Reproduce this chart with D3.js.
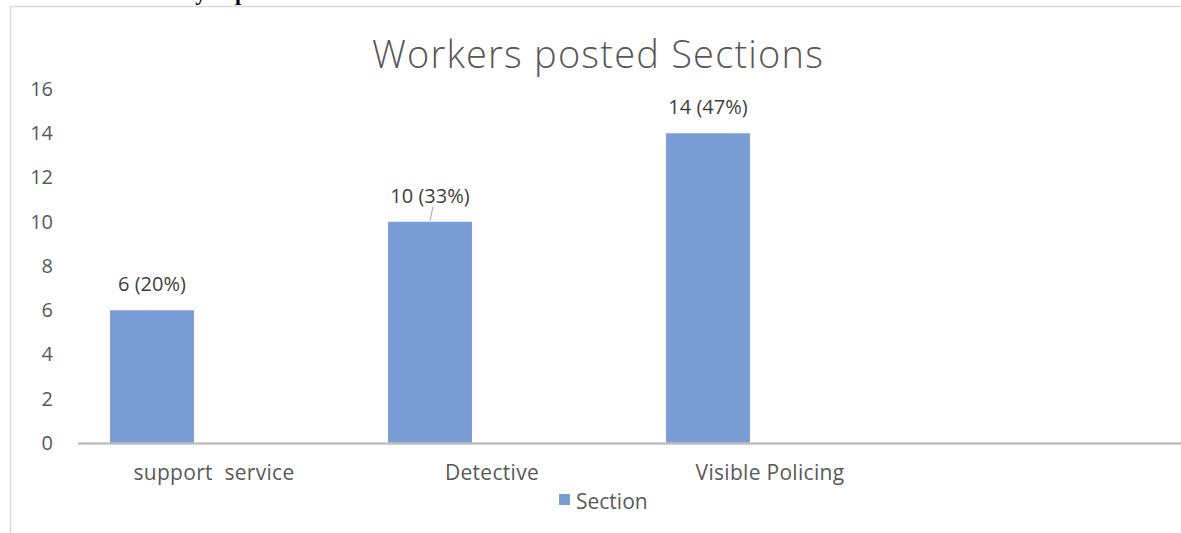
<!DOCTYPE html>
<html>
<head>
<meta charset="utf-8">
<script src="https://cdn.jsdelivr.net/npm/d3@7"></script>
<style>
  html, body { margin: 0; padding: 0; background: #fff; }
  svg { display: block; }
</style>
</head>
<body>
<svg width="1181" height="533"></svg>
<script>
// data
const categories = ["support  service", "Detective", "Visible Policing"];
const slots = ["support  service", "Detective", "Visible Policing", ""];
const values = [6, 10, 14];
const value_labels = ["6 (20%)", "10 (33%)", "14 (47%)"];
const y_ticks = [0, 2, 4, 6, 8, 10, 12, 14, 16];
const series_name = "Section";
const chart_title = "Workers posted Sections";
const question = "a. Which section are you posted at work?";

function render_chart()
{
    let svg = d3.select("svg");
    let width = +svg.attr("width");
    let height = +svg.attr("height");

    let bar_color = "#7b9dd6";
    let text_color = "#595959";
    let font = "'Open Sans', sans-serif";

    // cropped question text at the very top (only its lower edge shows)
    svg.append("text")
        .attr("x", 0)
        .attr("y", 0)
        .attr("font-family", "'Liberation Serif', serif")
        .attr("font-weight", "bold")
        .attr("font-size", 22)
        .attr("fill", "#000")
        .text(question);

    // chart frame (only top and left edges visible)
    svg.append("path")
        .attr("d", `M10.5,${height} V6.5 H${width}`)
        .attr("fill", "none")
        .attr("stroke", "#d9d9d9")
        .attr("stroke-width", 1.5);

    let x = d3.scaleBand()
        .domain(slots)
        .range([13, 1125])
        .paddingInner(0.698)
        .paddingOuter(0.349);

    let y = d3.scaleLinear()
        .domain([0, 16])
        .range([443, 89]);

    // title
    svg.append("text")
        .attr("x", 598)
        .attr("y", 68)
        .attr("text-anchor", "middle")
        .attr("font-family", font)
        .attr("font-weight", 300)
        .attr("font-size", 38)
        .attr("letter-spacing", 1.2)
        .attr("fill", text_color)
        .text(chart_title);

    // y axis labels
    let y_axis = d3.axisLeft(y)
        .tickValues(y_ticks)
        .tickSize(0)
        .tickPadding(0);
    svg.append("g")
        .attr("transform", "translate(53,0)")
        .call(y_axis)
        .call(g => g.select(".domain").remove())
        .selectAll("text")
            .attr("font-family", font)
            .attr("font-size", 20)
            .attr("fill", text_color);

    // bars
    svg.append("g")
        .selectAll("rect")
        .data(values)
        .join("rect")
            .attr("x", (d, i) => x(categories[i]))
            .attr("y", d => y(d))
            .attr("width", x.bandwidth())
            .attr("height", d => y(0) - y(d))
            .attr("fill", bar_color);

    // baseline
    svg.append("line")
        .attr("x1", 78)
        .attr("x2", width)
        .attr("y1", y(0) + 0.5)
        .attr("y2", y(0) + 0.5)
        .attr("stroke", "#bfbfbf")
        .attr("stroke-width", 2.5);

    // category labels (offset to the right like the source)
    svg.append("g")
        .selectAll("text")
        .data(categories)
        .join("text")
            .attr("x", d => x(d) + x.bandwidth() / 2 + 62)
            .attr("y", 480)
            .attr("text-anchor", "middle")
            .attr("font-family", font)
            .attr("font-size", 21)
            .attr("letter-spacing", 0.3)
            .attr("fill", text_color)
            .style("white-space", "pre")
            .text(d => d);

    // data labels
    svg.append("g")
        .selectAll("text")
        .data(values)
        .join("text")
            .attr("x", (d, i) => x(categories[i]) + x.bandwidth() / 2)
            .attr("y", d => y(d) - 19)
            .attr("text-anchor", "middle")
            .attr("font-family", font)
            .attr("font-size", 20)
            .attr("fill", "#404040")
            .text((d, i) => value_labels[i]);

    // leader line on the middle label
    let mid = 1;
    let cx = x(categories[mid]) + x.bandwidth() / 2;
    svg.append("line")
        .attr("x1", cx + 3)
        .attr("y1", y(values[mid]) - 15)
        .attr("x2", cx)
        .attr("y2", y(values[mid]) - 1)
        .attr("stroke", "#a6a6a6")
        .attr("stroke-width", 1);

    // legend
    let legend = svg.append("g")
        .attr("transform", "translate(559,494)");
    legend.append("rect")
        .attr("width", 11)
        .attr("height", 11)
        .attr("fill", bar_color);
    legend.append("text")
        .attr("x", 17)
        .attr("y", 15)
        .attr("font-family", font)
        .attr("font-size", 21)
        .attr("fill", text_color)
        .text(series_name);
}

render_chart();
</script>
</body>
</html>
